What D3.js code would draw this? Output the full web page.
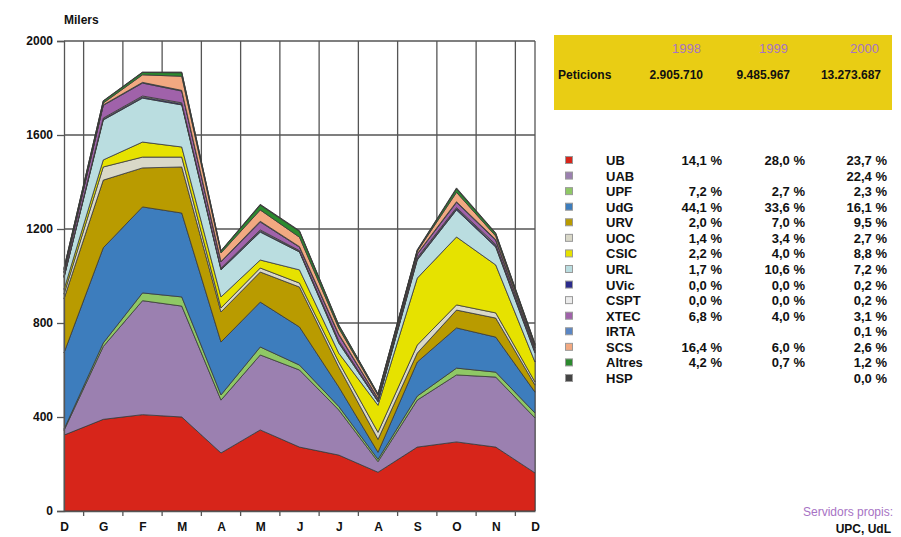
<!DOCTYPE html>
<html>
<head>
<meta charset="utf-8">
<script src="https://cdn.jsdelivr.net/npm/d3@7"></script>
<style>
  body { margin: 0; background: #fff; }
  svg text { font-family: "Liberation Sans Narrow", "Liberation Sans", Arial, sans-serif; font-weight: bold; }
</style>
</head>
<body>
<div id="chart"></div>
<script>
// months (Dec -> Dec)
var months = ["D", "G", "F", "M", "A", "M", "J", "J", "A", "S", "O", "N", "D"];
var yTicks = [0, 400, 800, 1200, 1600, 2000];

// series, bottom to top (milers de peticions)
var names = ["UB", "UAB", "UPF", "UdG", "URV", "UOC", "CSIC", "URL", "UVic", "CSPT", "XTEC", "IRTA", "SCS", "Altres", "HSP"];
var colors = ["#d7251a", "#9b80b0", "#8fc865", "#3d7dbd", "#b99b00", "#d9d8c8", "#e6e200", "#badde0", "#2b2b8c", "#ececec", "#a062aa", "#5a86c4", "#f2a981", "#2b8a2e", "#444444"];

var UB     = [323, 390, 410, 400, 247, 345, 272, 238, 165, 272, 294, 272, 162];
var UAB    = [20, 310, 485, 472, 225, 319, 328, 192, 45, 200, 285, 298, 234];
var UPF    = [5, 15, 33, 39, 22, 34, 21, 15, 10, 17, 29, 21, 21];
var UdG    = [325, 405, 366, 357, 225, 191, 162, 83, 30, 145, 171, 149, 89];
var URV    = [230, 288, 166, 196, 128, 128, 170, 85, 55, 38, 76, 81, 30];
var UOC    = [20, 56, 46, 42, 17, 17, 17, 21, 30, 34, 22, 22, 13];
var CSIC   = [20, 30, 64, 43, 47, 34, 56, 38, 115, 285, 289, 204, 85];
var URL    = [50, 170, 187, 179, 115, 119, 76, 43, 15, 77, 115, 76, 38];
var UVic   = [3, 4, 5, 5, 4, 5, 3, 5, 2, 5, 6, 6, 6];
var CSPT   = [3, 4, 4, 4, 3, 4, 3, 5, 3, 5, 4, 5, 5];
var XTEC   = [15, 54, 55, 50, 27, 34, 15, 25, 8, 15, 22, 18, 10];
var IRTA   = [2, 2, 3, 3, 2, 3, 2, 3, 2, 2, 3, 3, 3];
var SCS    = [10, 8, 32, 60, 36, 48, 40, 25, 12, 10, 40, 15, 8];
var Altres = [6, 8, 10, 15, 8, 21, 25, 12, 5, 4, 15, 10, 5];
var HSP    = [2, 2, 2, 3, 2, 3, 3, 3, 2, 3, 4, 3, 3];
var values = [UB, UAB, UPF, UdG, URV, UOC, CSIC, URL, UVic, CSPT, XTEC, IRTA, SCS, Altres, HSP];

// legend percentages per year
var pct1998 = ["14,1 %", "", "7,2 %", "44,1 %", "2,0 %", "1,4 %", "2,2 %", "1,7 %", "0,0 %", "0,0 %", "6,8 %", "", "16,4 %", "4,2 %", ""];
var pct1999 = ["28,0 %", "", "2,7 %", "33,6 %", "7,0 %", "3,4 %", "4,0 %", "10,6 %", "0,0 %", "0,0 %", "4,0 %", "", "6,0 %", "0,7 %", ""];
var pct2000 = ["23,7 %", "22,4 %", "2,3 %", "16,1 %", "9,5 %", "2,7 %", "8,8 %", "7,2 %", "0,2 %", "0,2 %", "3,1 %", "0,1 %", "2,6 %", "1,2 %", "0,0 %"];

var years = ["1998", "1999", "2000"];
var peticions = ["2.905.710", "9.485.967", "13.273.687"];

var width = 901, height = 537;
var svg = d3.select("#chart").append("svg")
    .attr("width", width)
    .attr("height", height);

var x = d3.scaleLinear().domain([0, months.length - 1]).range([64, 535]);
var y = d3.scaleLinear().domain([0, 2000]).range([511, 41]);

// rows for the stack
var rows = months.map(function (m, i) {
    var r = { i: i };
    names.forEach(function (n, k) { r[n] = values[k][i]; });
    return r;
});
var stacked = d3.stack().keys(names)(rows);

// grid
var grid = svg.append("g").attr("stroke", "#555").attr("stroke-width", 1.3);
d3.range(months.length - 1).forEach(function (i) {
    grid.append("line")
        .attr("x1", x(i + 0.5)).attr("x2", x(i + 0.5))
        .attr("y1", y(2000)).attr("y2", y(0) + 5);
});
yTicks.forEach(function (t) {
    grid.append("line")
        .attr("x1", x(0)).attr("x2", x(12))
        .attr("y1", y(t)).attr("y2", y(t));
});
grid.append("line").attr("x1", x(12)).attr("x2", x(12)).attr("y1", y(2000)).attr("y2", y(0));

// areas
var area = d3.area()
    .x(function (d) { return x(d.data.i); })
    .y0(function (d) { return y(d[0]); })
    .y1(function (d) { return y(d[1]); });

svg.append("g").selectAll("path")
    .data(stacked)
    .enter().append("path")
    .attr("d", area)
    .attr("fill", function (d, k) { return colors[k]; })
    .attr("stroke", "#3a3a3a")
    .attr("stroke-width", 0.8)
    .attr("stroke-linejoin", "round");

// axes
var yAxis = svg.append("g")
    .attr("transform", "translate(" + x(0) + ",0)")
    .call(d3.axisLeft(y).tickValues(yTicks).tickSize(7).tickPadding(4).tickFormat(d3.format("d")));
yAxis.select(".domain").attr("stroke", "#555").attr("stroke-width", 1.3);
yAxis.selectAll(".tick line").attr("stroke", "#555").attr("stroke-width", 1.3);
yAxis.selectAll("text").attr("font-size", 12).attr("fill", "#111");

var xAxis = svg.append("g")
    .attr("transform", "translate(0," + y(0) + ")")
    .call(d3.axisBottom(x).tickValues(d3.range(months.length)).tickSize(0).tickPadding(11)
        .tickFormat(function (i) { return months[i]; }));
xAxis.select(".domain").attr("stroke", "#555").attr("stroke-width", 1.3);
xAxis.selectAll("text").attr("font-size", 12).attr("fill", "#111");

svg.append("text").attr("x", 64).attr("y", 24).attr("font-size", 12).attr("fill", "#111").text("Milers");

// yellow box
svg.append("rect").attr("x", 554).attr("y", 35).attr("width", 338).attr("height", 75).attr("fill", "#e9cd14");
var colX = [703, 790, 881];
years.forEach(function (yr, k) {
    svg.append("text").attr("x", colX[k] - 2).attr("y", 53).attr("text-anchor", "end")
        .attr("font-size", 13).attr("fill", "#a773c4").style("font-weight", "normal").text(yr);
});
svg.append("text").attr("x", 558).attr("y", 79).attr("font-size", 12).attr("fill", "#111").text("Peticions");
peticions.forEach(function (p, k) {
    svg.append("text").attr("x", colX[k]).attr("y", 79).attr("text-anchor", "end")
        .attr("font-size", 12).attr("fill", "#111").text(p);
});

// legend
var leg = svg.append("g");
names.forEach(function (n, k) {
    var cy = 160 + k * 15.57;
    leg.append("rect").attr("x", 565.5).attr("y", cy - 3.5).attr("width", 7).attr("height", 7)
        .attr("fill", colors[k]).attr("stroke", "#999").attr("stroke-width", 1);
    leg.append("text").attr("x", 606).attr("y", cy + 5).attr("font-size", 13).attr("fill", "#111").text(n);
    [pct1998[k], pct1999[k], pct2000[k]].forEach(function (p, j) {
        leg.append("text").attr("x", [722, 805, 887][j]).attr("y", cy + 5).attr("text-anchor", "end")
            .attr("font-size", 13).attr("fill", "#111").text(p);
    });
});

svg.append("text").attr("x", 893).attr("y", 516).attr("text-anchor", "end")
    .attr("font-size", 12).attr("fill", "#a773c4").style("font-weight", "normal").text("Servidors propis:");
svg.append("text").attr("x", 891).attr("y", 533).attr("text-anchor", "end")
    .attr("font-size", 12).attr("fill", "#111").text("UPC, UdL");
</script>
</body>
</html>
